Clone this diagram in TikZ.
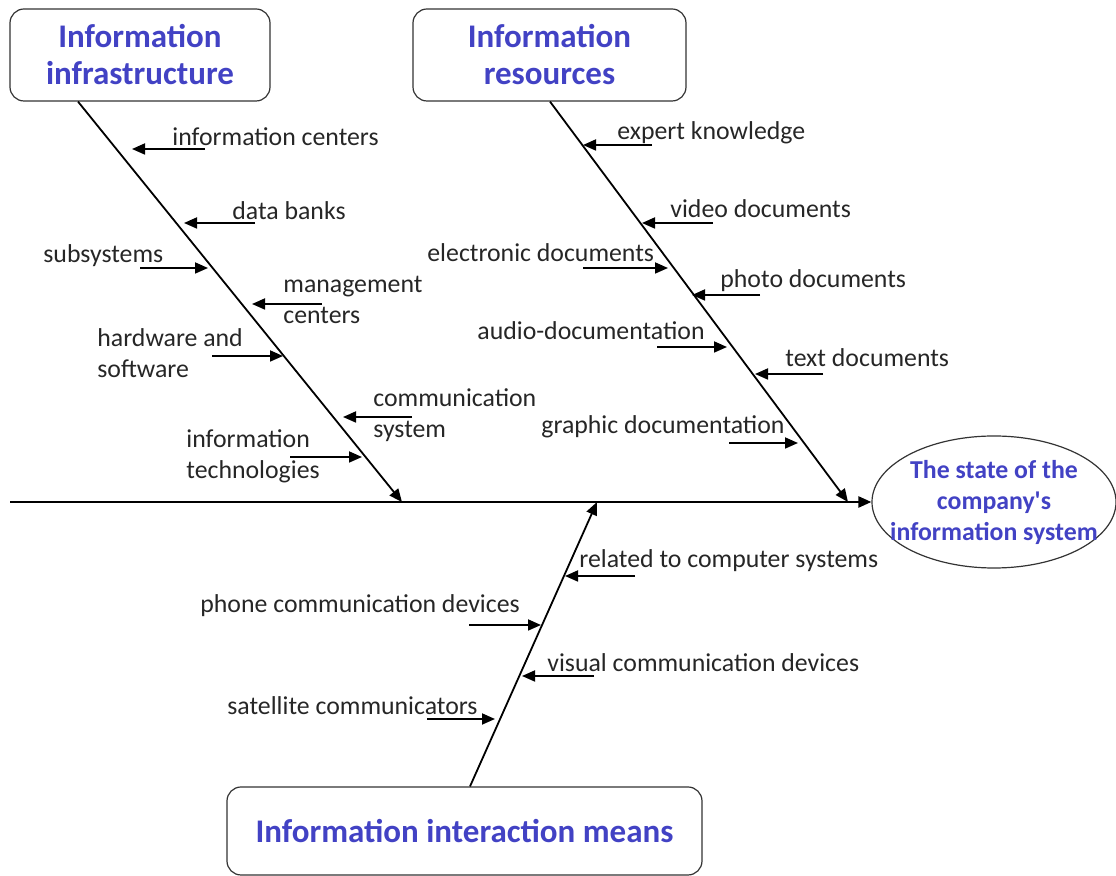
\documentclass[tikz,border=0pt]{standalone}
\usepackage{fontspec}
\setmainfont{Carlito}
\usetikzlibrary{arrows.meta,shapes.geometric}
\definecolor{headblue}{RGB}{66,66,196}
\definecolor{labelgray}{RGB}{38,38,38}
\tikzset{
  cause/.style={draw=black!80, rounded corners=7pt, line width=0.6pt, text=headblue,
    font=\fontsize{16.5}{18.5}\selectfont\bfseries, align=center},
  effect/.style={draw=black!80, ellipse, line width=0.6pt, text=headblue, inner xsep=-10pt, inner ysep=0pt,
    minimum width=122pt, minimum height=66pt, font=\fontsize{12.9}{15.5}\selectfont\bfseries, align=center},
  bone/.style={line width=0.9pt, -{Triangle[length=6.5pt,width=5.5pt]}},
  spine/.style={line width=1.2pt, -{Triangle[length=6.5pt,width=5.5pt]}},
  sub/.style={line width=0.9pt, -{Triangle[length=6.5pt,width=5.5pt]}},
  lbl/.style={anchor=west, inner sep=0pt, text=labelgray, font=\fontsize{12.9}{15.5}\selectfont, align=left}
}
\begin{document}
\begin{tikzpicture}[x=0.5pt,y=-0.5pt]
\useasboundingbox (0,0) rectangle (1116,876);

% Cause boxes and effect
\node[cause, minimum width=130pt, minimum height=46pt] (infra) at (140,55) {Information\\infrastructure};
\node[cause, minimum width=136.5pt, minimum height=46pt] (res) at (549.5,55) {Information\\resources};
\node[cause, minimum width=237.5pt, minimum height=44pt] (means) at (464.5,831) {Information interaction means};
\node[effect] (goal) at (994,502) {The state of the\\company\textquotesingle s\\information system};

% Spine and main bones
\draw[spine] (10,0 |- goal.west) -- (goal.west);
\draw[bone] (78,0 |- infra.south) -- (402,502);
\draw[bone] (550,0 |- res.south) -- (848,502);
\draw[bone] (470,0 |- means.north) -- (597,502);

% Information infrastructure
\node[lbl] (centers) at (172,137) {information centers};
\draw[sub] (205,149) -- (132,149);
\node[lbl] (banks) at (232,211) {data banks};
\draw[sub] (255,223) -- (184,223);
\node[lbl] (subsys) at (43,256) {subsystems};
\draw[sub] (140,268) -- (208,268);
\node[lbl] (mgmt) at (283,300) {management\\centers};
\draw[sub] (322,304) -- (252,304);
\node[lbl] (hard) at (97,353) {hardware and\\software};
\draw[sub] (212,356) -- (283,356);
\node[lbl] (comm) at (373,415) {communication\\system};
\draw[sub] (412,417) -- (343,417);
\node[lbl] (tech) at (186,456) {information\\technologies};
\draw[sub] (290,457) -- (362,457);

% Information resources
\node[lbl] (expert) at (617,133) {expert knowledge};
\draw[sub] (652,145) -- (583,145);
\node[lbl] (video) at (670,209) {video documents};
\draw[sub] (713,223) -- (642,223);
\node[lbl] (elec) at (427,253) {electronic documents};
\draw[sub] (583,268) -- (668,268);
\node[lbl] (photo) at (720,281) {photo documents};
\draw[sub] (760,295) -- (692,295);
\node[lbl] (audio) at (477,331) {audio-documentation};
\draw[sub] (657,347) -- (727,347);
\node[lbl] (textdoc) at (785,358) {text documents};
\draw[sub] (823,374) -- (755,374);
\node[lbl] (graph) at (541,427) {graphic documentation};
\draw[sub] (729,443) -- (798,443);

% Information interaction means
\node[lbl] (related) at (579,561) {related to computer systems};
\draw[sub] (635,576) -- (565,576);
\node[lbl] (phone) at (200,606) {phone communication devices};
\draw[sub] (469,625) -- (541,625);
\node[lbl] (visual) at (547,663) {visual communication devices};
\draw[sub] (594,676) -- (522,676);
\node[lbl] (sat) at (227,706) {satellite communicators};
\draw[sub] (427,719) -- (495,719);
\end{tikzpicture}
\end{document}
